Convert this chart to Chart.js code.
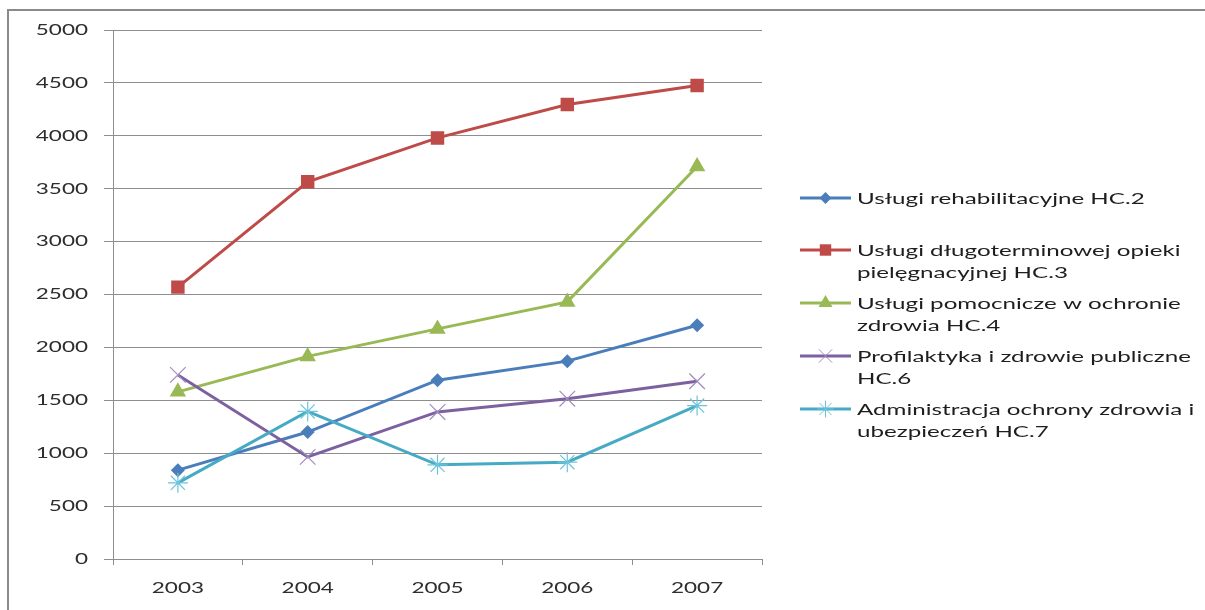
<!DOCTYPE html>
<html>
<head>
<meta charset="utf-8">
<script src="https://cdn.jsdelivr.net/npm/chart.js@4/dist/chart.umd.min.js"></script>
<style>
  html, body { margin: 0; padding: 0; background: #fff; overflow: hidden; }
  #wrap { position: relative; width: 1205px; height: 610px; }
</style>
</head>
<body>
<div id="wrap"><canvas id="c"></canvas></div>
<script>
// ---- data ----
const years = ["2003", "2004", "2005", "2006", "2007"];
const rehabilitacja = [840, 1200, 1690, 1870, 2210];
const opiekaDlugoterminowa = [2570, 3565, 3980, 4295, 4475];
const uslugiPomocnicze = [1580, 1915, 2175, 2430, 3710];
const profilaktyka = [1740, 965, 1390, 1515, 1680];
const administracja = [720, 1395, 890, 915, 1450];
const seriesNames = [
  ["Usługi rehabilitacyjne HC.2"],
  ["Usługi długoterminowej opieki", "pielęgnacyjnej HC.3"],
  ["Usługi pomocnicze w ochronie", "zdrowia HC.4"],
  ["Profilaktyka i zdrowie publiczne", "HC.6"],
  ["Administracja ochrony zdrowia i", "ubezpieczeń HC.7"]
];
const yMin = 0, yMax = 5000, yStep = 500;

// ---- styles ----
const colors = ["#4a7ebb", "#be4b48", "#98b954", "#7d60a0", "#46aac5"];
const markerColors = ["#4a7ebb", "#be4b48", "#98b954", "#a08cc0", "#6cc4dc"];
const markers = ["rectRot", "rect", "triangle", "crossRot", "star"];
const radii = [7, 9.5, 9.5, 11, 10];
const values = [rehabilitacja, opiekaDlugoterminowa, uslugiPomocnicze, profilaktyka, administracja];
const GRID = "#8e8e8e";
const FONT = "Lato, 'Open Sans', sans-serif";
const SX = 1.5;

function scaledText(ctx, text, x, y, align, size, color, sx) {
  ctx.save();
  ctx.font = size + "px " + FONT;
  ctx.fillStyle = color;
  ctx.textAlign = align;
  ctx.textBaseline = "middle";
  ctx.translate(x, y);
  ctx.scale(sx, 1);
  ctx.fillText(text, 0, 0);
  ctx.restore();
}

function drawMarker(ctx, style, x, y, r, color) {
  ctx.save();
  ctx.fillStyle = color; ctx.strokeStyle = color; ctx.lineWidth = 1;
  ctx.beginPath();
  if (style === "rectRot") {
    ctx.moveTo(x, y - r); ctx.lineTo(x + r, y); ctx.lineTo(x, y + r); ctx.lineTo(x - r, y); ctx.closePath(); ctx.fill();
  } else if (style === "rect") {
    const s = r * Math.SQRT1_2; ctx.rect(x - s, y - s, 2 * s, 2 * s); ctx.fill();
  } else if (style === "triangle") {
    const e = r * 3 / Math.sqrt(3), h = e * Math.sqrt(3) / 2;
    ctx.moveTo(x - e / 2, y + h / 3); ctx.lineTo(x + e / 2, y + h / 3); ctx.lineTo(x, y - 2 * h / 3); ctx.closePath(); ctx.fill();
  } else if (style === "crossRot") {
    const s = r * Math.SQRT1_2;
    ctx.moveTo(x - s, y - s); ctx.lineTo(x + s, y + s); ctx.moveTo(x - s, y + s); ctx.lineTo(x + s, y - s); ctx.stroke();
  } else if (style === "star") {
    const s = r * Math.SQRT1_2;
    ctx.moveTo(x, y - r); ctx.lineTo(x, y + r); ctx.moveTo(x - r, y); ctx.lineTo(x + r, y);
    ctx.moveTo(x - s, y - s); ctx.lineTo(x + s, y + s); ctx.moveTo(x - s, y + s); ctx.lineTo(x + s, y - s); ctx.stroke();
  }
  ctx.restore();
}

const framePlugin = {
  id: "frame",
  beforeDraw(chart) {
    const ctx = chart.ctx;
    ctx.save();
    ctx.strokeStyle = "#8a8a8a"; ctx.lineWidth = 2;
    ctx.strokeRect(8, 10, 1400, 800);
    ctx.restore();
  },
  afterDraw(chart) {
    const ctx = chart.ctx;
    const ys = chart.scales.y, xs = chart.scales.x;
    // y tick labels
    ys.ticks.forEach((t, i) => {
      scaledText(ctx, String(t.value), 88, ys.getPixelForTick(i), "right", 15, "#2e2e2e", SX);
    });
    // x tick labels
    xs.ticks.forEach((t, i) => {
      scaledText(ctx, xs.getLabelForValue(t.value), xs.getPixelForTick(i), 588, "center", 15, "#2e2e2e", SX);
    });
    // legend
    const firstY = [198, 250, 303, 356, 409];
    seriesNames.forEach((lines, i) => {
      const y = firstY[i];
      ctx.save();
      ctx.strokeStyle = colors[i]; ctx.lineWidth = 3;
      ctx.beginPath(); ctx.moveTo(800, y); ctx.lineTo(851, y); ctx.stroke();
      ctx.restore();
      drawMarker(ctx, markers[i], 825.5, y, radii[i] * 0.85, markerColors[i]);
      lines.forEach((ln, j) => scaledText(ctx, ln, 857, y + 1 + j * 22, "left", 16, "#1e1e1e", 1.51));
    });
  }
};

new Chart(document.getElementById("c"), {
  type: "line",
  data: {
    labels: years,
    datasets: values.map((v, i) => ({
      label: seriesNames[i].join(" "),
      data: v,
      borderColor: colors[i],
      backgroundColor: markerColors[i],
      borderWidth: 3,
      pointStyle: markers[i],
      pointRadius: radii[i],
      pointBackgroundColor: markerColors[i],
      pointBorderColor: markerColors[i],
      pointBorderWidth: (markers[i] === "crossRot" || markers[i] === "star") ? 1.2 : 0,
      tension: 0,
      order: 5 - i
    }))
  },
  options: {
    responsive: true,
    maintainAspectRatio: false,
    animation: false,
    layout: { padding: { left: 0, top: 30, right: 443, bottom: 0 } },
    plugins: { legend: { display: false }, tooltip: { enabled: false } },
    scales: {
      x: {
        type: "category",
        offset: true,
        grid: { offset: true, drawOnChartArea: false, drawTicks: true, tickLength: 6, color: GRID },
        border: { display: true, color: GRID, width: 1 },
        ticks: { display: false },
        afterFit(s) { s.height = 51; }
      },
      y: {
        min: yMin, max: yMax,
        grid: { color: GRID, tickLength: 9, drawTicks: true },
        border: { display: true, color: GRID, width: 1 },
        ticks: { display: false, stepSize: yStep },
        afterFit(s) { s.width = 113; }
      }
    }
  },
  plugins: [framePlugin]
});
</script>
</body>
</html>
